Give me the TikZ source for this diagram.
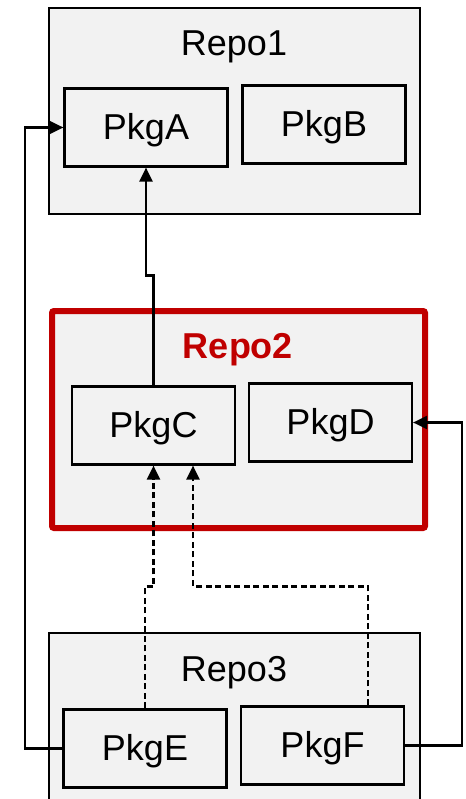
\documentclass[tikz,border=0pt]{standalone}
\usepackage{fontspec}
\setmainfont{Liberation Sans}
\usetikzlibrary{arrows.meta}
\definecolor{boxfill}{HTML}{F2F2F2}
\definecolor{repored}{HTML}{C00000}
\tikzset{
  repobox/.style={draw=black, line width=2.2pt, fill=boxfill},
  pkgbox/.style={draw=black, line width=2.2pt, fill=boxfill, minimum width=163pt, minimum height=78pt, inner sep=0pt, text height=24pt, text depth=0pt, font=\fontsize{36}{40}\selectfont},
  repolabel/.style={inner sep=0pt, text height=26pt, text depth=0pt, font=\fontsize{36}{40}\selectfont},
  arr/.style={line width=2.2pt, -{Triangle[length=14pt,width=13pt]}},
  dasharr/.style={arr, dash pattern=on 6pt off 3.5pt},
}
\begin{document}
\begin{tikzpicture}[x=1pt,y=-1pt]
\useasboundingbox (0,0) rectangle (465,799);
\clip (0,0) rectangle (465,799);
% repositories
\draw[repobox] (49,8) rectangle (420,214);
\node[repolabel] (R1) at (234,43) {Repo1};
\draw[draw=repored, line width=6pt, fill=boxfill, rounded corners=2pt] (52,311) rectangle (425,528);
\node[repolabel, text=repored, font=\fontsize{36}{40}\selectfont\bfseries] (R2) at (238,345) {Repo2};
\draw[repobox] (49,633) rectangle (420,830);
\node[repolabel] (R3) at (234,668) {Repo3};
% packages
\node[pkgbox] (PkgA) at (146,127.5) {PkgA};
\node[pkgbox] (PkgB) at (324,124.5) {PkgB};
\node[pkgbox] (PkgC) at (153.5,425.5) {PkgC};
\node[pkgbox] (PkgD) at (330.5,422.5) {PkgD};
\node[pkgbox] (PkgE) at (145,748.5) {PkgE};
\node[pkgbox] (PkgF) at (322.5,745.5) {PkgF};
% connectors
\coordinate (LeftE) at (25,748.5);
\coordinate (RightF) at (462,745.5);
\draw[arr] (PkgC.north) -- ++(0,-110) -| (PkgA.south);
\draw[arr] (PkgE.west) -- (LeftE) |- (PkgA.west);
\draw[arr] (PkgF.east) -- (RightF) |- (PkgD.east);
\draw[dasharr] (PkgE.north) -- ++(0,-122) -| (PkgC.south);
\draw[dasharr] ([xshift=45.5pt]PkgF.north) -- ++(0,-119) -| ([xshift=39.5pt]PkgC.south);
\end{tikzpicture}
\end{document}
